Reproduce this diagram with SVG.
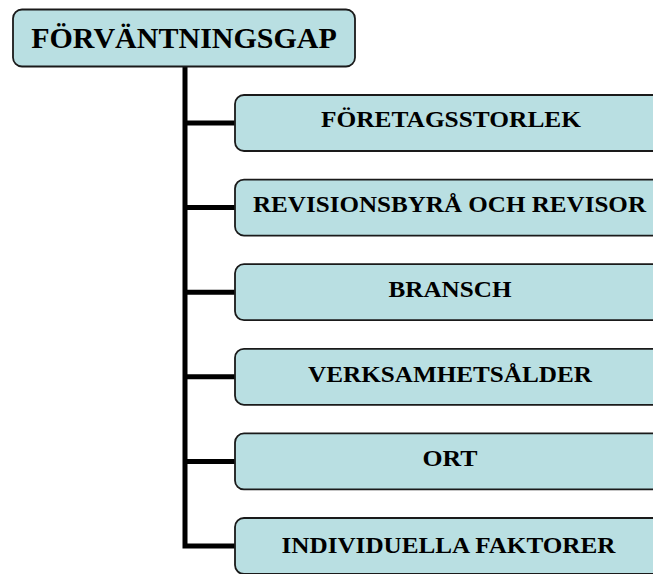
<svg xmlns="http://www.w3.org/2000/svg" width="653" height="574" viewBox="0 0 653 574">
<style>
.box{fill:#b9dfe2;stroke:#1a1a1a;stroke-width:1.8}
.t{font-family:"Liberation Serif","Times New Roman",serif;font-weight:bold;fill:#000;text-anchor:middle}
.c{font-size:23.5px}
.conn{fill:none;stroke:#000;stroke-width:5}
</style>
<rect width="653" height="574" fill="#fff"/>
<g id="connectors">
<path class="conn" d="M185,67 V546 H235"/>
<path class="conn" d="M185,123 H235 M185,207.6 H235 M185,292.2 H235 M185,376.8 H235 M185,461.4 H235"/>
</g>
<g id="root">
<rect class="box" x="13" y="9.5" width="342" height="57" rx="9"/>
<text class="t" x="184" y="47.5" font-size="30">FÖRVÄNTNINGSGAP</text>
</g>
<g id="n1">
<rect class="box" x="235" y="95" width="430" height="56" rx="9"/>
<text class="t c" x="451" y="127" textLength="260" lengthAdjust="spacingAndGlyphs">FÖRETAGSSTORLEK</text>
</g>
<g id="n2">
<rect class="box" x="235" y="179.6" width="430" height="56" rx="9"/>
<text class="t c" x="449.5" y="212" textLength="393" lengthAdjust="spacingAndGlyphs">REVISIONSBYRÅ OCH REVISOR</text>
</g>
<g id="n3">
<rect class="box" x="235" y="264.2" width="430" height="56" rx="9"/>
<text class="t c" x="450" y="297" textLength="123" lengthAdjust="spacingAndGlyphs">BRANSCH</text>
</g>
<g id="n4">
<rect class="box" x="235" y="348.8" width="430" height="56" rx="9"/>
<text class="t c" x="450" y="381.5" textLength="284" lengthAdjust="spacingAndGlyphs">VERKSAMHETSÅLDER</text>
</g>
<g id="n5">
<rect class="box" x="235" y="433.4" width="430" height="56" rx="9"/>
<text class="t c" x="450" y="466" textLength="55" lengthAdjust="spacingAndGlyphs">ORT</text>
</g>
<g id="n6">
<rect class="box" x="235" y="518" width="430" height="56" rx="9"/>
<text class="t c" x="448.5" y="553" textLength="334" lengthAdjust="spacingAndGlyphs">INDIVIDUELLA FAKTORER</text>
</g>
</svg>
